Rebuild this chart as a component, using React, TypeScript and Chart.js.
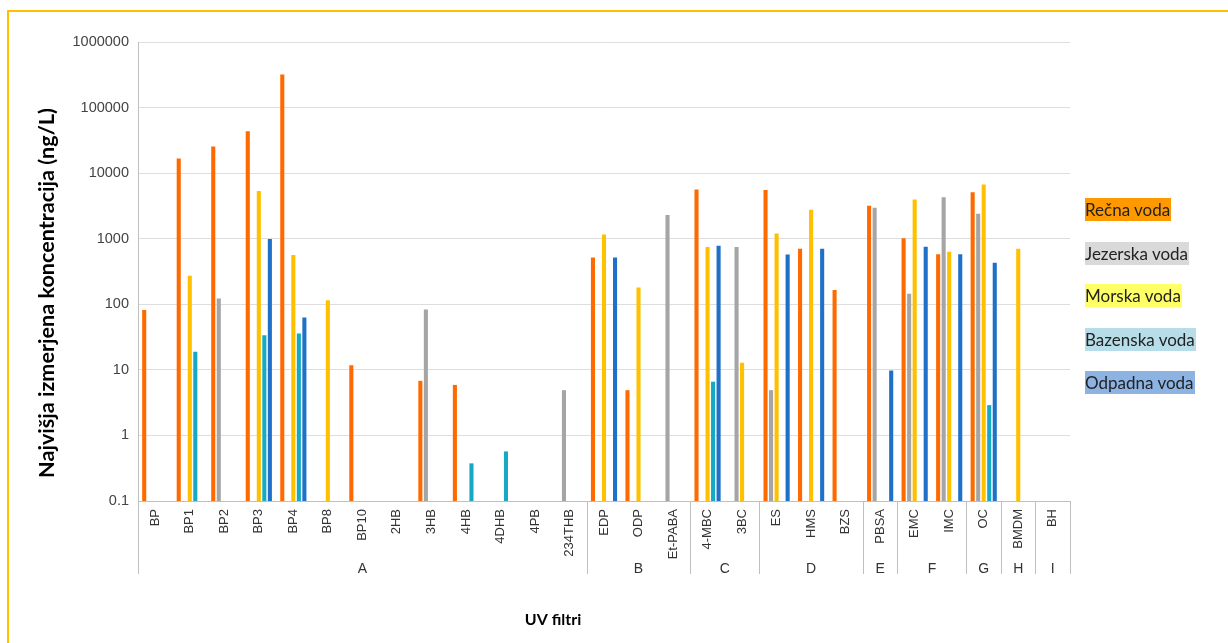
import React, { useEffect, useRef } from "react";
import { Chart, registerables } from "chart.js";

Chart.register(...registerables);

const categories = [
  "BP", "BP1", "BP2", "BP3", "BP4", "BP8", "BP10", "2HB", "3HB", "4HB", "4DHB", "4PB", "234THB",
  "EDP", "ODP", "Et-PABA",
  "4-MBC", "3BC",
  "ES", "HMS", "BZS",
  "PBSA",
  "EMC", "IMC",
  "OC",
  "BMDM",
  "BH",
];

const groups = ["A", "B", "C", "D", "E", "F", "G", "H", "I"];
const groupSizes = [13, 3, 2, 3, 1, 2, 1, 1, 1];

const seriesNames = ["Rečna voda", "Jezerska voda", "Morska voda", "Bazenska voda", "Odpadna voda"];

const recna = [82, 16750, 25500, 43700, 319000, null, 11.8, null, 6.8, 5.9, null, null, null,
  519, 4.9, null, 5640, null, 5510, 702, 165, 3175, 1020, 582, 5130, null, null];
const jezerska = [null, null, 123, null, null, null, null, null, 83.6, null, null, null, 4.9,
  null, null, 2290, null, 745, 4.9, null, null, 2960, 145, 4300, 2400, null, null];
const morska = [null, 272, null, 5320, 562, 115, null, null, null, null, null, null, null,
  1162, 181, null, 745, 12.8, 1204, 2760, null, null, 3970, 631, 6730, 702, null];
const bazenska = [null, 18.9, null, 33.6, 36, null, null, null, null, 0.375, 0.57, null, null,
  null, null, null, 6.6, null, null, null, null, null, null, null, 2.9, null, null];
const odpadna = [null, null, null, 986, 63, null, null, null, null, null, null, null, null,
  519, null, null, 780, null, 576, 700, null, 9.8, 753, 582, 430, null, null];

const yTicks = [0.1, 1, 10, 100, 1000, 10000, 100000, 1000000];

const barColors = ["#ff6a00", "#a5a5a5", "#ffc000", "#17a8c4", "#1e70c8"];
const legendColors = ["#ff9900", "#d9d9d9", "#ffff66", "#b7dee8", "#8db3e2"];

const yTitle = "Najvišja izmerjena koncentracija (ng/L)";
const xTitle = "UV filtri";

const overlayPlugin = {
  id: "overlay",
  afterDraw(chart: any) {
    const ctx = chart.ctx;
    const x = chart.scales.x;
    const area = chart.chartArea;
    const step = (area.right - area.left) / categories.length;
    ctx.save();
    // group separators
    ctx.strokeStyle = "#bfbfbf";
    ctx.lineWidth = 1;
    let idx = 0;
    const bounds = [0];
    groupSizes.forEach((s) => {
      idx += s;
      bounds.push(idx);
    });
    bounds.forEach((b) => {
      const px = Math.round(area.left + b * step) + 0.5;
      ctx.beginPath();
      ctx.moveTo(px, area.bottom);
      ctx.lineTo(px, area.bottom + 73);
      ctx.stroke();
    });
    // group labels
    ctx.fillStyle = "#333";
    ctx.font = "14px 'Liberation Sans', Arial, sans-serif";
    ctx.textAlign = "center";
    ctx.textBaseline = "middle";
    groups.forEach((g, i) => {
      const cx = area.left + ((bounds[i] + bounds[i + 1]) / 2) * step;
      ctx.fillText(g, cx, 569);
    });
    // y title
    ctx.fillStyle = "#000";
    let fs = 17;
    ctx.font = `bold ${fs}px Lato, 'Noto Sans', sans-serif`;
    const w = ctx.measureText(yTitle).width;
    fs = fs * (370 / w);
    ctx.font = `bold ${fs}px Lato, 'Noto Sans', sans-serif`;
    ctx.translate(47, 293);
    ctx.rotate(-Math.PI / 2);
    ctx.fillText(yTitle, 0, 0);
    ctx.restore();
    ctx.save();
    ctx.fillStyle = "#000";
    ctx.font = "bold 16px Lato, 'Noto Sans', sans-serif";
    ctx.textAlign = "center";
    ctx.textBaseline = "middle";
    ctx.fillText(xTitle, 553, 620);
    ctx.restore();
  },
};

export default function App() {
  const ref = useRef<HTMLCanvasElement | null>(null);

  useEffect(() => {
    if (!ref.current) return;
    const all = [recna, jezerska, morska, bazenska, odpadna];
    const chart = new Chart(ref.current, {
      type: "bar",
      data: {
        labels: categories,
        datasets: all.map((d, i) => ({
          label: seriesNames[i],
          data: d as any,
          backgroundColor: barColors[i],
          borderWidth: 0,
          categoryPercentage: 0.8,
          barPercentage: 0.74,
        })),
      },
      options: {
        responsive: false,
        animation: false,
        layout: { padding: { left: 0, right: 158, top: 42, bottom: 0 } },
        plugins: {
          legend: { display: false },
          tooltip: { enabled: false },
          title: { display: false },
        },
        scales: {
          x: {
            offset: true,
            grid: { display: false, drawTicks: false },
            border: { display: true, color: "#bfbfbf", width: 1 },
            ticks: {
              autoSkip: false,
              minRotation: 90,
              maxRotation: 90,
              padding: 8,
              color: "#333",
              font: { family: "'Liberation Sans', Arial, sans-serif", size: 13 },
            },
            afterFit(scale: any) {
              scale.height = 142;
            },
          },
          y: {
            type: "logarithmic",
            min: 0.1,
            max: 1000000,
            grid: { color: "#dedede", lineWidth: 1, drawTicks: false },
            border: { display: true, color: "#bfbfbf", width: 1 },
            afterBuildTicks(scale: any) {
              scale.ticks = yTicks.map((v) => ({ value: v }));
            },
            ticks: {
              padding: 9,
              color: "#444",
              font: { family: "'Liberation Sans', Arial, sans-serif", size: 14.5 },
              callback: (v: any) => String(v),
            },
            afterFit(scale: any) {
              scale.width = 138;
            },
          },
        },
      },
      plugins: [overlayPlugin],
    });
    return () => chart.destroy();
  }, []);

  const legendTops = [198, 242, 284, 328, 371];
  return (
    <div style={{ position: "absolute", left: 0, top: 0, width: 1228, height: 643, background: "#fff", overflow: "hidden" }}>
      <canvas ref={ref} width={1228} height={643} style={{ position: "absolute", left: 0, top: 0, width: 1228, height: 643 }} />
      <div style={{ position: "absolute", left: 7, top: 10, width: 1228, height: 700, borderLeft: "2px solid #ffc000", borderTop: "2px solid #ffc000", pointerEvents: "none" }} />
      {seriesNames.map((n, i) => (
        <div
          key={n}
          style={{
            position: "absolute",
            left: 1085,
            top: legendTops[i],
            height: 23,
            lineHeight: "23px",
            background: legendColors[i],
            color: "#222",
            fontFamily: "Lato, 'Noto Sans', sans-serif",
            fontSize: 17,
            paddingRight: 1,
            whiteSpace: "nowrap",
          }}
        >
          {n}
        </div>
      ))}
    </div>
  );
}
